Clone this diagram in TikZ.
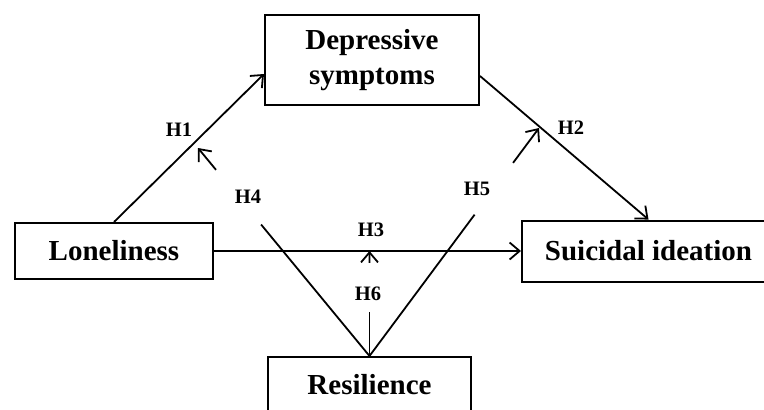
\documentclass[tikz,border=0pt]{standalone}
\usepackage{fontspec}
\setmainfont{Liberation Serif}
\usetikzlibrary{arrows.meta,calc}
\begin{document}
\begin{tikzpicture}[x=1pt,y=-1pt,
  box/.style={draw, line width=2pt, inner sep=0pt, align=center,
    font=\fontsize{29}{37}\selectfont\bfseries},
  conn/.style={line width=1.8pt, -{Straight Barb[length=10pt,width=17pt]}},
  plain/.style={line width=1.8pt},
  hyp/.style={font=\fontsize{20.5}{24}\selectfont\bfseries, inner sep=0pt}]
\clip (0,0) rectangle (764,410);
% boxes
\node[box, minimum width=214pt, minimum height=90pt] (dep) at (372,60) {Depressive\\[-2pt]symptoms};
\node[box, minimum width=198pt, minimum height=56pt] (lon) at (114,251) {Loneliness};
\node[box, minimum width=253pt, minimum height=61pt] (sui) at (648.5,251) {Suicidal ideation};
\node[box, minimum width=203pt, minimum height=56pt] (res) at (369.5,385) {Resilience};
% target points of moderation arrows
\coordinate (m1) at (198,148);
\coordinate (m2) at (539,128);
\coordinate (m3) at (369.5,251);
% main paths
\draw[conn] (lon.north) -- ($(dep.west)+(0,14)$);
\draw[conn] ($(dep.east)+(0,16)$) -- (sui.north);
\draw[conn] (lon.east) -- (sui.west);
% moderation paths
\draw[plain] (res.north) -- ($(res.north)!0.632!(m1)$);
\draw[conn] ($(res.north)!0.895!(m1)$) -- (m1);
\draw[plain] (res.north) -- ($(res.north)!0.62!(m2)$);
\draw[conn] ($(res.north)!0.847!(m2)$) -- (m2);
\draw[plain] (res.north) -- (369.5,312);
\draw[conn] ($(res.north)!0.886!(m3)$) -- (m3);
% labels
\node[hyp] (h1) at (179,130) {H1};
\node[hyp] (h2) at (571,128) {H2};
\node[hyp] (h3) at (371,230) {H3};
\node[hyp] (h4) at (248,197) {H4};
\node[hyp] (h5) at (477,189) {H5};
\node[hyp] (h6) at (368,294) {H6};
\end{tikzpicture}
\end{document}
